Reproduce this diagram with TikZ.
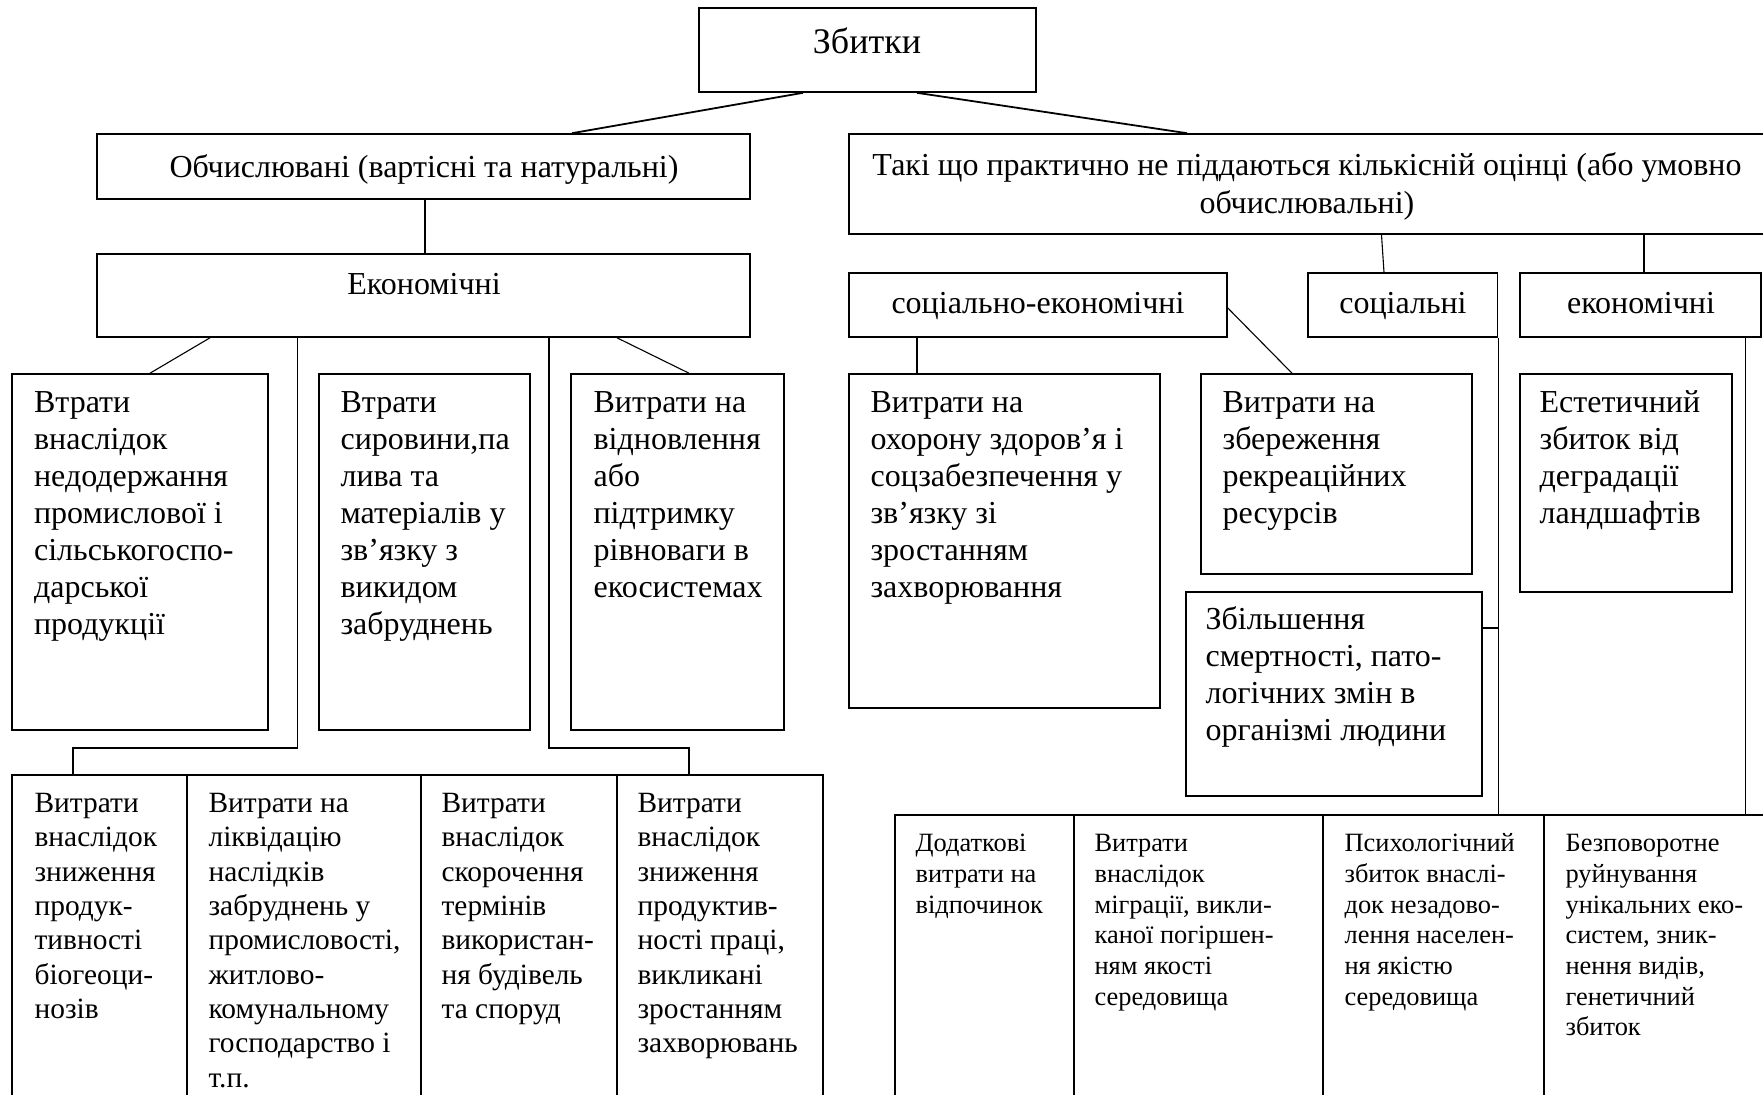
\documentclass[tikz,border=0pt]{standalone}
\usepackage{fontspec}
\setmainfont{Liberation Serif}
\usetikzlibrary{fit}
\tikzset{
  frame/.style={draw, line width=0.8pt, inner sep=0pt},
  conn/.style={line width=0.55pt},
  connb/.style={line width=0.9pt},
  big/.style={inner sep=0pt, font=\fontsize{16}{18.5}\selectfont},
  zbt/.style={inner sep=0pt, font=\fontsize{18}{20}\selectfont},
  body/.style={anchor=north west, align=left, inner sep=0pt, font=\fontsize{16}{18.5}\selectfont},
  bodyc/.style={anchor=north west, align=left, inner sep=0pt, font=\fontsize{14.7}{17.15}\selectfont},
  bodyd/.style={anchor=north west, align=left, inner sep=0pt, font=\fontsize{13.2}{15.35}\selectfont},
}
\begin{document}
\begin{tikzpicture}[x=0.5pt, y=-0.5pt]
\useasboundingbox (0,0) rectangle (1763,1094);
\clip (0,0) rectangle (1763,1094);
\fill[white] (0,0) rectangle (1763,1094);

% ---------- frames ----------
\node[frame, fit={(699,8) (1036,92)}] (zb) {};
\node[frame, fit={(97,134) (750,199)}] (obch) {};
\node[frame, fit={(97,254) (750,337)}] (ekon) {};
\node[frame, fit={(849,134) (1780,234)}] (taki) {};
\node[frame, fit={(849,273) (1227,337)}] (socek) {};
\node[frame, fit={(1308,273) (1497.5,337)}] (soc) {};
\node[frame, fit={(1520,273) (1761,337)}] (ek2) {};

\node[frame, fit={(12,374) (268,730)}] (a1) {};
\node[frame, fit={(319,374) (530,730)}] (a2) {};
\node[frame, fit={(571,374) (784,730)}] (a3) {};

\node[frame, fit={(849,374) (1160,708)}] (b1) {};
\node[frame, fit={(1201,374) (1472,574)}] (b2) {};
\node[frame, fit={(1520,374) (1732,592)}] (b3) {};
\node[frame, fit={(1186,592) (1482,796)}] (b4) {};

\node[frame, fit={(12,775) (187,1110)}] (c1) {};
\node[frame, fit={(187,775) (421,1110)}] (c2) {};
\node[frame, fit={(421,775) (617,1110)}] (c3) {};
\node[frame, fit={(617,775) (823,1110)}] (c4) {};

\node[frame, fit={(895,815) (1074,1110)}] (d1) {};
\node[frame, fit={(1074,815) (1323,1110)}] (d2) {};
\node[frame, fit={(1323,815) (1544,1110)}] (d3) {};
\node[frame, fit={(1544,815) (1780,1110)}] (d4) {};

% ---------- connectors ----------
\draw[connb] (zb.south -| 803,0) -- (obch.north -| 572,0);
\draw[connb] (zb.south -| 917,0) -- (taki.north -| 1187,0);
\draw[conn] (obch.south -| 425,0) -- (ekon.north -| 425,0);
\draw[conn] (ekon.south -| 210,0) -- (a1.north -| 150,0);
\draw[conn] (ekon.south -| 617,0) -- (a3.north -| 689,0);
\draw[conn] (ekon.south -| 297.5,0) -- (297.5,748) -- (73,748) -- (c1.north -| 73,0);
\draw[conn] (ekon.south -| 549,0) -- (549,748) -- (689,748) -- (c4.north -| 689,0);

\draw[conn] (taki.south -| 1381.5,0) -- (soc.north -| 1384,0);
\draw[conn] (taki.south -| 1644,0) -- (ek2.north -| 1644,0);
\draw[conn] (socek.south -| 917,0) -- (b1.north -| 917,0);
\draw[conn] (socek.east |- 0,308) -- (b2.north -| 1292,0);
\draw[conn] (soc.south east) -- (d3.north -| soc.east);
\draw[conn] (b4.east |- 0,628) -- (soc.east |- 0,628);
\draw[conn] (ek2.south -| 1745.5,0) -- (d4.north -| 1745.5,0);

% ---------- texts ----------
\node[zbt, anchor=base] at (867,53) {Збитки};
\node[big, anchor=base] at (424,177) {Обчислювані (вартісні та натуральні)};
\node[big, anchor=base] at (424,294) {Економічні};
\node[big, anchor=base] at (1307,175) {Такі що практично не піддаються кількісній оцінці (або умовно};
\node[big, anchor=base] at (1307,213) {обчислювальні)};
\node[big, anchor=base] at (1038,313) {соціально-економічні};
\node[big, anchor=base] at (1403,313) {соціальні};
\node[big, anchor=base] at (1641,313) {економічні};

\node[body] at ([shift={(22.5,13)}]a1.north west) {\strut Втрати\\внаслідок\\недодержання\\промислової і\\сільськогоспо-\\дарської\\продукції};
\node[body] at ([shift={(22,13)}]a2.north west) {\strut Втрати\\сировини,па\\лива та\\матеріалів у\\зв’язку з\\викидом\\забруднень};
\node[body] at ([shift={(23,13)}]a3.north west) {\strut Витрати на\\відновлення\\або\\підтримку\\рівноваги в\\екосистемах};

\node[body] at ([shift={(22,13)}]b1.north west) {\strut Витрати на\\охорону здоров’я і\\соцзабезпечення у\\зв’язку зі\\зростанням\\захворювання};
\node[body] at ([shift={(22,13)}]b2.north west) {\strut Витрати на\\збереження\\рекреаційних\\ресурсів};
\node[body] at ([shift={(20,13)}]b3.north west) {\strut Естетичний\\збиток від\\деградації\\ландшафтів};
\node[body] at ([shift={(20,12)}]b4.north west) {\strut Збільшення\\смертності, пато-\\логічних змін в\\організмі людини};

\node[bodyc] at ([shift={(23,14)}]c1.north west) {\strut Витрати\\внаслідок\\зниження\\продук-\\тивності\\біогеоци-\\нозів};
\node[bodyc] at ([shift={(22,14)}]c2.north west) {\strut Витрати на\\ліквідацію\\наслідків\\забруднень у\\промисловості,\\житлово-\\комунальному\\господарство і\\т.п.};
\node[bodyc] at ([shift={(21,14)}]c3.north west) {\strut Витрати\\внаслідок\\скорочення\\термінів\\використан-\\ня будівель\\та споруд};
\node[bodyc] at ([shift={(21,14)}]c4.north west) {\strut Витрати\\внаслідок\\зниження\\продуктив-\\ності праці,\\викликані\\зростанням\\захворювань};

\node[bodyd] at ([shift={(21,15.5)}]d1.north west) {\strut Додаткові\\витрати на\\відпочинок};
\node[bodyd] at ([shift={(21,15.5)}]d2.north west) {\strut Витрати\\внаслідок\\міграції, викли-\\каної погіршен-\\ням якості\\середовища};
\node[bodyd] at ([shift={(22,15.5)}]d3.north west) {\strut Психологічний\\збиток внаслі-\\док незадово-\\лення населен-\\ня якістю\\середовища};
\node[bodyd] at ([shift={(22,15.5)}]d4.north west) {\strut Безповоротне\\руйнування\\унікальних еко-\\систем, зник-\\нення видів,\\генетичний\\збиток};
\end{tikzpicture}
\end{document}
